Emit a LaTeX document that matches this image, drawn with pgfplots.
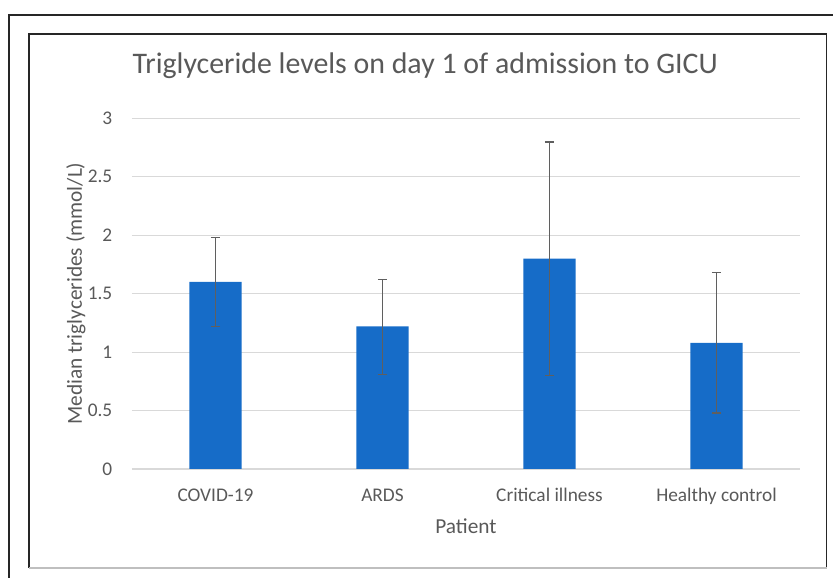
\documentclass[border=0pt]{standalone}
\usepackage{fontspec}
\setmainfont{Carlito}
\usepackage{pgfplots}
\usepackage{pgfplotstable}
\pgfplotsset{compat=1.18}
\definecolor{barblue}{RGB}{22,108,200}
\definecolor{txtgray}{RGB}{89,89,89}
\definecolor{gridgray}{RGB}{217,217,217}
\definecolor{errgray}{RGB}{95,95,95}
\pgfplotstableread{
x y ep em
0 1.60 0.38 0.38
1 1.22 0.40 0.41
2 1.80 1.00 1.00
3 1.08 0.60 0.60
}\tgdata
\begin{document}
\begin{tikzpicture}
\useasboundingbox (0,0) rectangle (624.75pt,433.5pt);
% outer frame (cut by page)
\draw[black!85, line width=1.1pt] (6.75pt,-2pt) -- (6.75pt,422.25pt) -- (630pt,422.25pt);
% inner frame
\draw[black!85, line width=1.1pt] (21.75pt,7.5pt) -- (21.75pt,408pt) -- (619.9pt,408pt) -- (619.9pt,7.5pt);
\draw[black!25, line width=0.8pt] (21.75pt,7.5pt) -- (619.9pt,7.5pt);
\begin{axis}[
  at={(99pt,81.75pt)}, anchor=south west,
  scale only axis, width=501pt, height=263pt,
  xmin=-0.5, xmax=3.5, ymin=0, ymax=3,
  xtick={0,1,2,3},
  xticklabels={COVID-19,ARDS,Critical illness,Healthy control},
  ytick={0,0.5,1,1.5,2,2.5,3},
  yticklabels={0,0.5,1,1.5,2,2.5,3},
  ymajorgrids, grid style={gridgray, line width=0.8pt},
  axis x line*=bottom, axis y line*=left,
  x axis line style={gridgray, line width=0.8pt, -},
  y axis line style={draw=none},
  major tick length=0pt,
  tick style={draw=none},
  ticklabel style={font=\fontsize{14.5}{17}\selectfont, text=txtgray},
  yticklabel style={anchor=east, inner sep=0pt, xshift=-14.6pt},
  xticklabel style={anchor=base, inner sep=0pt, yshift=-24.5pt},
  title={Triglyceride levels on day 1 of admission to GICU},
  title style={at={(axis description cs:0.439,1.106)}, anchor=base, inner sep=0pt,
    font=\fontsize{22.4}{26}\selectfont, text=txtgray},
  xlabel={Patient},
  xlabel style={at={(axis description cs:0.5,-0.185)}, anchor=base, inner sep=0pt,
    font=\fontsize{16}{19}\selectfont, text=txtgray},
  ylabel={Median triglycerides (mmol/L)},
  ylabel style={at={(axis description cs:-0.0749,0.5)}, anchor=base, inner sep=0pt, rotate=0,
    font=\fontsize{16}{19}\selectfont, text=txtgray},
  clip=false,
]
\addplot[ybar, bar width=39.3pt, fill=barblue, draw=none,
  error bars/.cd, y dir=both, y explicit,
  error bar style={errgray, line width=1.2pt},
  error mark options={rotate=90, errgray, mark size=3.5pt, line width=1.2pt}]
  table[x=x, y=y, y error plus=ep, y error minus=em] {\tgdata};
\end{axis}
\end{tikzpicture}
\end{document}
